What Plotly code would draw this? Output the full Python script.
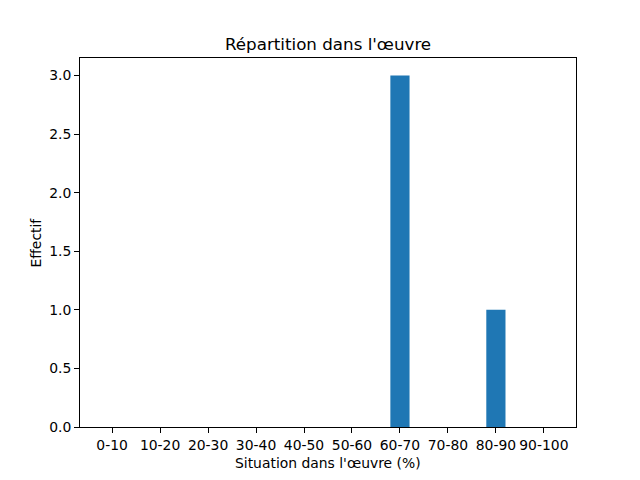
import plotly.graph_objects as go

categories = ["0-10", "10-20", "20-30", "30-40", "40-50", "50-60", "60-70", "70-80", "80-90", "90-100"]
effectif = [0, 0, 0, 0, 0, 0, 3, 0, 1, 0]
y_ticks = [0.0, 0.5, 1.0, 1.5, 2.0, 2.5, 3.0]

x_pos = list(range(len(categories)))

fig = go.Figure(go.Bar(x=x_pos, y=effectif, width=0.4, marker=dict(color="#1f77b4", line=dict(width=0))))

font = dict(family="DejaVu Sans", size=13.9, color="black")
# page body has an 8px default margin, so the figure is offset by (8, 8)
fig.update_layout(
    width=632, height=472,
    margin=dict(l=72, r=64, t=50, b=53, pad=0, autoexpand=False),
    paper_bgcolor="white", plot_bgcolor="white",
    font=font,
    showlegend=False,
    xaxis=dict(
        range=[-0.67, 9.67], tickmode="array", tickvals=x_pos, ticktext=categories,
        showline=True, linecolor="black", linewidth=1, mirror=True, automargin=False,
        ticks="outside", ticklen=5, tickcolor="black", showgrid=False, zeroline=False,
    ),
    yaxis=dict(
        range=[0, 3.15], tickmode="array", tickvals=y_ticks,
        ticktext=[f"{v:.1f}" for v in y_ticks], automargin=False,
        showline=True, linecolor="black", linewidth=1, mirror=True,
        ticks="outside", ticklen=5, tickcolor="black", showgrid=False, zeroline=False,
    ),
    annotations=[
        dict(text="Répartition dans l'œuvre", x=0.5, y=1, xref="paper", yref="paper",
             xanchor="center", yanchor="bottom", yshift=2, showarrow=False,
             font=dict(family="DejaVu Sans", size=16.7, color="black")),
        dict(text="Situation dans l'œuvre (%)", x=0.5, y=0, xref="paper", yref="paper",
             xanchor="center", yanchor="middle", yshift=-36, showarrow=False, font=font),
        dict(text="Effectif", x=0, y=0.5, xref="paper", yref="paper", textangle=-90,
             xanchor="center", yanchor="middle", xshift=-45, showarrow=False, font=font),
    ],
)

fig.write_html("out.html")
